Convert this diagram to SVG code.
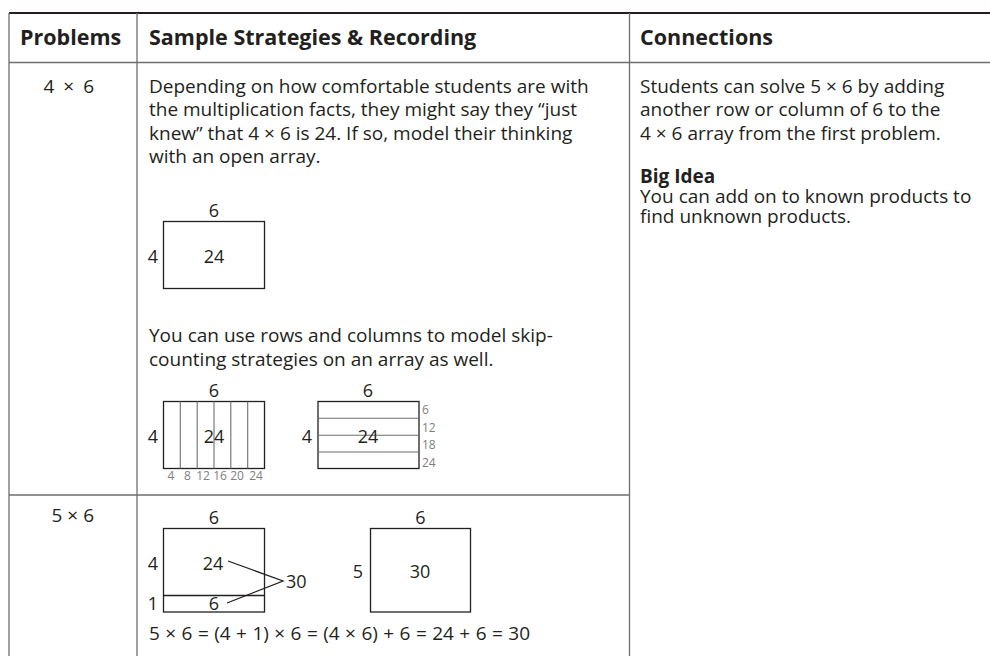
<svg xmlns="http://www.w3.org/2000/svg" width="990" height="656" viewBox="0 0 990 656">
<style>
text{font-family:"Open Sans","Noto Sans","Liberation Sans",sans-serif;fill:#231f20;font-size:19px}
.h{font-weight:bold;font-size:21.5px}
.b{font-weight:bold}
.c{text-anchor:middle}
.e{text-anchor:end}
.n{font-size:18px}
.s{font-size:12px;fill:#808080}
.grid{stroke:#6d6e71;stroke-width:1.3;fill:none}
.box{stroke:#231f20;stroke-width:1.3;fill:none}
.thin{stroke:#6d6e71;stroke-width:1.1}
</style>
<rect width="990" height="656" fill="#fff"/>
<g id="table">
<line x1="9" y1="13" x2="990" y2="13" stroke="#231f20" stroke-width="2.2"/>
<line class="grid" x1="9" y1="62.5" x2="990" y2="62.5"/>
<line class="grid" x1="9" y1="495" x2="629.5" y2="495"/>
<line class="grid" x1="9" y1="13" x2="9" y2="656"/>
<line class="grid" x1="137" y1="13" x2="137" y2="656"/>
<line class="grid" x1="629.5" y1="13" x2="629.5" y2="656"/>
</g>
<g id="headers">
<text class="h" x="20" y="45">Problems</text>
<text class="h" x="149" y="45">Sample Strategies &amp; Recording</text>
<text class="h" x="640" y="45">Connections</text>
</g>
<g id="row1-problem"><text class="e" x="94" y="92.5" style="word-spacing:4px">4 × 6</text></g>
<g id="row1-text">
<text x="149" y="92.5">Depending on how comfortable students are with</text>
<text x="149" y="116">the multiplication facts, they might say they “just</text>
<text x="149" y="139.5">knew” that 4 × 6 is 24. If so, model their thinking</text>
<text x="149" y="163">with an open array.</text>
<text x="149" y="342">You can use rows and columns to model skip-</text>
<text x="149" y="366">counting strategies on an array as well.</text>
</g>
<g id="array-open">
<rect class="box" x="163.5" y="221.5" width="101" height="67"/>
<text class="n c" x="214" y="217">6</text>
<text class="n c" x="153" y="263">4</text>
<text class="n c" x="214" y="263">24</text>
</g>
<g id="array-columns">
<rect class="box" x="163.5" y="401.5" width="101" height="67"/>
<line class="thin" x1="180.3" y1="401.5" x2="180.3" y2="468.5"/>
<line class="thin" x1="197.2" y1="401.5" x2="197.2" y2="468.5"/>
<line class="thin" x1="214" y1="401.5" x2="214" y2="468.5"/>
<line class="thin" x1="230.8" y1="401.5" x2="230.8" y2="468.5"/>
<line class="thin" x1="247.7" y1="401.5" x2="247.7" y2="468.5"/>
<text class="n c" x="214" y="397">6</text>
<text class="n c" x="153" y="443">4</text>
<text class="n c" x="214" y="443">24</text>
<text class="s c" x="171" y="480">4</text>
<text class="s c" x="187.5" y="480">8</text>
<text class="s c" x="203" y="480">12</text>
<text class="s c" x="220" y="480">16</text>
<text class="s c" x="237" y="480">20</text>
<text class="s c" x="256" y="480">24</text>
</g>
<g id="array-rows">
<rect class="box" x="318" y="401.5" width="101" height="67"/>
<line class="thin" x1="318" y1="418.3" x2="419" y2="418.3"/>
<line class="thin" x1="318" y1="435.2" x2="419" y2="435.2"/>
<line class="thin" x1="318" y1="452" x2="419" y2="452"/>
<text class="n c" x="368" y="397">6</text>
<text class="n c" x="307" y="443">4</text>
<text class="n c" x="368" y="443">24</text>
<text class="s" x="422" y="413.5">6</text>
<text class="s" x="422" y="431.5">12</text>
<text class="s" x="422" y="449">18</text>
<text class="s" x="422" y="466.5">24</text>
</g>
<g id="row2-problem"><text class="e" x="94" y="522">5 × 6</text></g>
<g id="array-split">
<rect class="box" x="163.5" y="528.5" width="101" height="83.5"/>
<line class="box" x1="163.5" y1="595.5" x2="264.5" y2="595.5"/>
<text class="n c" x="214" y="524">6</text>
<text class="n c" x="153" y="569.5">4</text>
<text class="n c" x="213" y="569.5">24</text>
<text class="n c" x="153" y="610">1</text>
<text class="n c" x="214" y="610">6</text>
<polyline class="box" points="228,561 283,581 227,603"/>
<text class="n" x="286" y="587.5">30</text>
</g>
<g id="array-whole">
<rect class="box" x="370.5" y="528.5" width="100" height="83.5"/>
<text class="n c" x="420.5" y="524">6</text>
<text class="n c" x="358" y="577.5">5</text>
<text class="n c" x="420" y="577.5">30</text>
</g>
<g id="equation"><text x="149" y="639.5" style="word-spacing:0.5px">5 × 6 = (4 + 1) × 6 = (4 × 6) + 6 = 24 + 6 = 30</text></g>
<g id="connections">
<text x="640" y="92.5">Students can solve 5 × 6 by adding</text>
<text x="640" y="116">another row or column of 6 to the</text>
<text x="640" y="139.5">4 × 6 array from the first problem.</text>
<text class="b" x="640" y="183">Big Idea</text>
<text x="640" y="203">You can add on to known products to</text>
<text x="640" y="223">find unknown products.</text>
</g>
</svg>
